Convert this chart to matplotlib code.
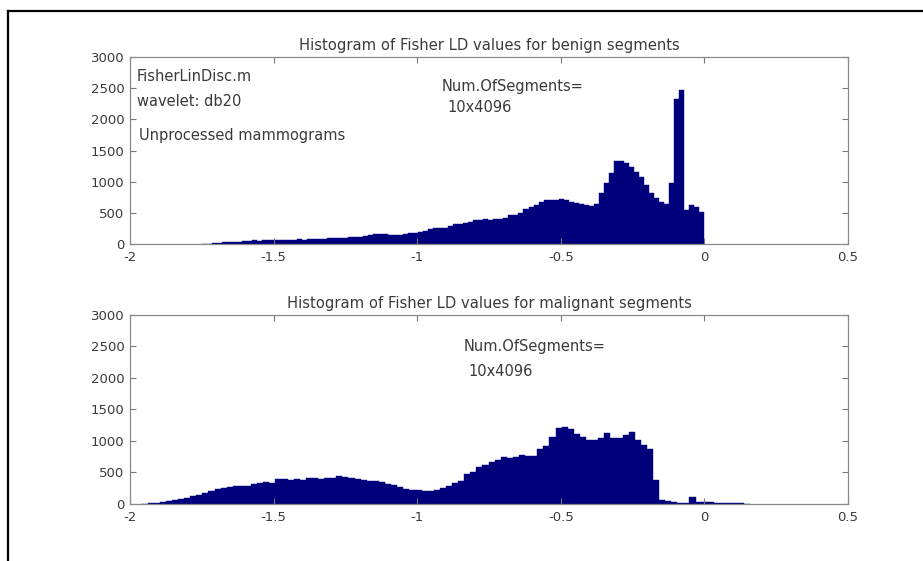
#!/usr/bin/env python3
# -*- coding: utf-8 -*-
"""
Histograms of Fisher linear discriminant values, benign vs malignant segments
"""

import numpy as np
import matplotlib.pyplot as plt
from matplotlib.lines import Line2D

# benign segments: 100 bins between -1.75 and 0
benign_range = (-1.75, 0.0)
benign_counts = [
    0, 5, 15, 20, 25, 25, 30, 35, 50, 55,
    60, 55, 60, 65, 60, 65, 70, 65, 70, 75,
    70, 80, 75, 85, 80, 90, 95, 100, 95, 105,
    110, 115, 125, 140, 155, 165, 160, 150, 145, 150,
    160, 170, 185, 200, 205, 235, 250, 255, 260, 290,
    320, 325, 330, 360, 380, 385, 395, 390, 400, 405,
    420, 460, 470, 500, 560, 600, 620, 680, 705, 710,
    700, 720, 705, 680, 660, 640, 620, 615, 640, 815,
    975, 1140, 1330, 1340, 1300, 1230, 1160, 1070, 950, 820,
    740, 680, 640, 975, 2330, 2470, 540, 625, 600, 520,
]

# malignant segments: 100 bins between -1.96 and 0.16
malignant_range = (-1.96, 0.16)
malignant_counts = [
    5, 10, 20, 35, 45, 60, 75, 100, 120, 150,
    170, 210, 235, 250, 265, 280, 285, 280, 310, 330,
    350, 340, 390, 395, 385, 390, 380, 405, 420, 400,
    415, 420, 450, 430, 420, 390, 385, 365, 360, 345,
    320, 300, 270, 240, 225, 215, 200, 205, 230, 260,
    290, 330, 370, 470, 500, 580, 620, 670, 700, 750,
    725, 740, 780, 755, 760, 880, 920, 1070, 1200, 1220,
    1185, 1110, 1060, 1020, 1010, 1040, 1120, 1040, 1045, 1100,
    1150, 1010, 940, 880, 380, 65, 40, 25, 20, 20,
    115, 30, 25, 25, 20, 20, 15, 10, 8, 5,
]

titles = ['Histogram of Fisher LD values for benign segments',
          'Histogram of Fisher LD values for malignant segments']
xticks = [-2, -1.5, -1, -0.5, 0, 0.5]
xticklabels = ['-2', '-1.5', '-1', '-0.5', '0', '0.5']
yticks = [0, 500, 1000, 1500, 2000, 2500, 3000]

plt.rcParams['font.family'] = ['DejaVu Sans']
txtcol = '#3a3a3a'
barcol = '#00007c'

fig = plt.figure(figsize=[9.23, 5.61], dpi=100)
ax1 = fig.add_axes([0.1408, 0.565, 0.778, 0.3333])
ax2 = fig.add_axes([0.1408, 0.1016, 0.778, 0.337])


def draw_hist(ax, rng, counts, title):
    edges = np.linspace(rng[0], rng[1], len(counts) + 1)
    centers = (edges[:-1] + edges[1:]) / 2
    ax.bar(centers, counts, width=edges[1] - edges[0], color=barcol,
           edgecolor=barcol, linewidth=0.3)
    ax.set_xlim(-2, 0.5)
    ax.set_ylim(0, 3000)
    ax.set_xticks(xticks)
    ax.set_xticklabels(xticklabels)
    ax.set_yticks(yticks)
    ax.tick_params(direction='in', top=True, right=True, length=4,
                   width=0.8, color='#777777', labelsize=9.5,
                   labelcolor=txtcol)
    ax.tick_params(axis='x', pad=5)
    ax.tick_params(axis='y', pad=4)
    for s in ax.spines.values():
        s.set_color('#8a8a8a')
        s.set_linewidth(0.9)
    ax.set_title(title, fontsize=10.6, color=txtcol, pad=5)


draw_hist(ax1, benign_range, benign_counts, titles[0])
draw_hist(ax2, malignant_range, malignant_counts, titles[1])

# labels inside the axes
kw = dict(fontsize=10.5, color=txtcol, va='center', ha='left')
ax1.text(-1.976, 2695, 'FisherLinDisc.m', **kw)
ax1.text(-1.976, 2294, 'wavelet: db20', **kw)
ax1.text(-1.969, 1748, 'Unprocessed mammograms', **kw)
ax1.text(-0.915, 2534, 'Num.OfSegments=', **kw)
ax1.text(-0.893, 2197, '10x4096', **kw)
ax2.text(-0.838, 2496, 'Num.OfSegments=', **kw)
ax2.text(-0.823, 2100, '10x4096', **kw)

# window frame
fig.add_artist(Line2D([0.0087, 0.0087], [0.0, 0.980], color='black',
                      lw=1.6, transform=fig.transFigure))
fig.add_artist(Line2D([0.0087, 1.0], [0.980, 0.980], color='black',
                      lw=1.6, transform=fig.transFigure))

plt.savefig('out.png', dpi=100)
